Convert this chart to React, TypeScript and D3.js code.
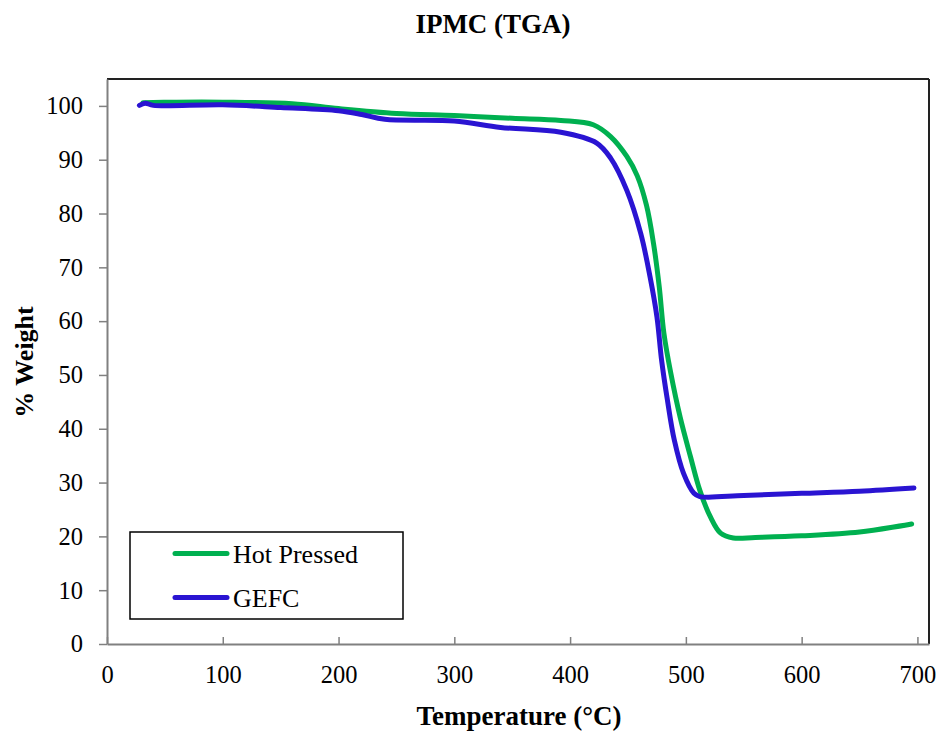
import React, { useRef, useEffect } from "react";
import * as d3 from "d3";

// Hot Pressed (green)
const hotTemp = [31, 60, 100, 160, 200, 250, 300, 350, 392, 420, 435, 449, 458, 466, 472, 477, 481, 487, 495, 504, 512, 521, 530, 541, 560, 600, 650, 695];
const hotWeight = [100.6, 100.7, 100.7, 100.4, 99.5, 98.6, 98.2, 97.7, 97.3, 96.5, 94.3, 90.6, 87.0, 81.5, 74.5, 66.4, 57.8, 50.3, 42.2, 34.8, 28.6, 23.7, 20.6, 19.7, 19.8, 20.1, 20.8, 22.3];

// GEFC (blue)
const gefcTemp = [28, 33, 40, 100, 150, 200, 220, 240, 300, 340, 392, 423, 435, 449, 461, 469, 475, 479, 484, 490, 498, 507, 512, 550, 600, 650, 697];
const gefcWeight = [100.1, 100.5, 100.1, 100.2, 99.7, 99.1, 98.4, 97.5, 97.2, 96.0, 95.1, 93.1, 90.3, 84.3, 76.3, 68.3, 60.8, 52.8, 45.4, 37.9, 31.7, 28.0, 27.4, 27.6, 28.0, 28.4, 29.0];

const xTicks = [0, 100, 200, 300, 400, 500, 600, 700];
const yTicks = [0, 10, 20, 30, 40, 50, 60, 70, 80, 90, 100];

const series = [
  { name: "Hot Pressed", color: "#00B050", temp: hotTemp, weight: hotWeight },
  { name: "GEFC", color: "#2A14D2", temp: gefcTemp, weight: gefcWeight },
];

const W = 941;
const H = 734;
const font = "'Liberation Serif', 'Times New Roman', serif";

export default function App() {
  const ref = useRef<SVGSVGElement>(null);

  useEffect(() => {
    const svg = d3.select(ref.current);
    svg.selectAll("*").remove();

    const left = 107, right = 929, top = 79, bottom = 644;

    const x = d3.scaleLinear().domain([0, 710]).range([left, right]);
    const y = d3.scaleLinear().domain([0, 105]).range([bottom, top]);

    // frame (top + right dark)
    svg.append("line").attr("x1", left).attr("x2", right).attr("y1", top).attr("y2", top)
      .attr("stroke", "#222").attr("stroke-width", 2);
    svg.append("line").attr("x1", right).attr("x2", right).attr("y1", top).attr("y2", bottom)
      .attr("stroke", "#222").attr("stroke-width", 2);

    // y axis
    const yAxis = svg.append("g")
      .attr("transform", `translate(${left},0)`)
      .call(d3.axisLeft(y).tickValues(yTicks).tickSize(8).tickSizeOuter(0).tickPadding(16));
    yAxis.select(".domain").attr("stroke", "#808080").attr("stroke-width", 2);
    yAxis.selectAll(".tick line").attr("stroke", "#808080").attr("stroke-width", 1.5);
    yAxis.selectAll("text").attr("font-family", font).attr("font-size", 24.5).attr("fill", "#000");

    // x axis, ticks inward
    const xAxis = svg.append("g")
      .attr("transform", `translate(0,${bottom})`)
      .call(d3.axisBottom(x).tickValues(xTicks).tickSizeInner(-7).tickSizeOuter(0).tickPadding(22));
    xAxis.select(".domain").attr("stroke", "#808080").attr("stroke-width", 2);
    xAxis.selectAll(".tick line").attr("stroke", "#808080").attr("stroke-width", 1.5);
    xAxis.selectAll("text").attr("font-family", font).attr("font-size", 24.5).attr("fill", "#000");

    const line = d3.line<[number, number]>()
      .x((d) => x(d[0]))
      .y((d) => y(d[1]))
      .curve(d3.curveCatmullRom.alpha(0.5));

    series.forEach((s) => {
      const pts = s.temp.map((t, i) => [t, s.weight[i]] as [number, number]);
      svg.append("path")
        .datum(pts)
        .attr("d", line)
        .attr("fill", "none")
        .attr("stroke", s.color)
        .attr("stroke-width", 5)
        .attr("stroke-linecap", "round")
        .attr("stroke-linejoin", "round");
    });

    // titles
    svg.append("text").attr("x", 493).attr("y", 33).attr("text-anchor", "middle")
      .attr("font-family", font).attr("font-size", 27).attr("font-weight", "bold").text("IPMC (TGA)");
    svg.append("text").attr("x", 519).attr("y", 725).attr("text-anchor", "middle")
      .attr("font-family", font).attr("font-size", 27).attr("font-weight", "bold").text("Temperature (°C)");
    svg.append("text").attr("transform", `translate(33,362) rotate(-90)`)
      .attr("text-anchor", "middle")
      .attr("font-family", font).attr("font-size", 26).attr("font-weight", "bold").text("% Weight");

    // legend
    const lg = svg.append("g");
    lg.append("rect").attr("x", 130).attr("y", 532).attr("width", 273).attr("height", 87)
      .attr("fill", "#fff").attr("stroke", "#000").attr("stroke-width", 1.5);
    series.forEach((s, i) => {
      const ly = 553.5 + i * 44;
      lg.append("line").attr("x1", 175).attr("x2", 227).attr("y1", ly).attr("y2", ly)
        .attr("stroke", s.color).attr("stroke-width", 5).attr("stroke-linecap", "round");
      lg.append("text").attr("x", 233).attr("y", ly + 9)
        .attr("font-family", font).attr("font-size", 26).text(s.name);
    });
  }, []);

  return (
    <svg
      ref={ref}
      width={W}
      height={H}
      style={{ display: "block", position: "absolute", left: 0, top: 0, background: "#fff" }}
    />
  );
}
